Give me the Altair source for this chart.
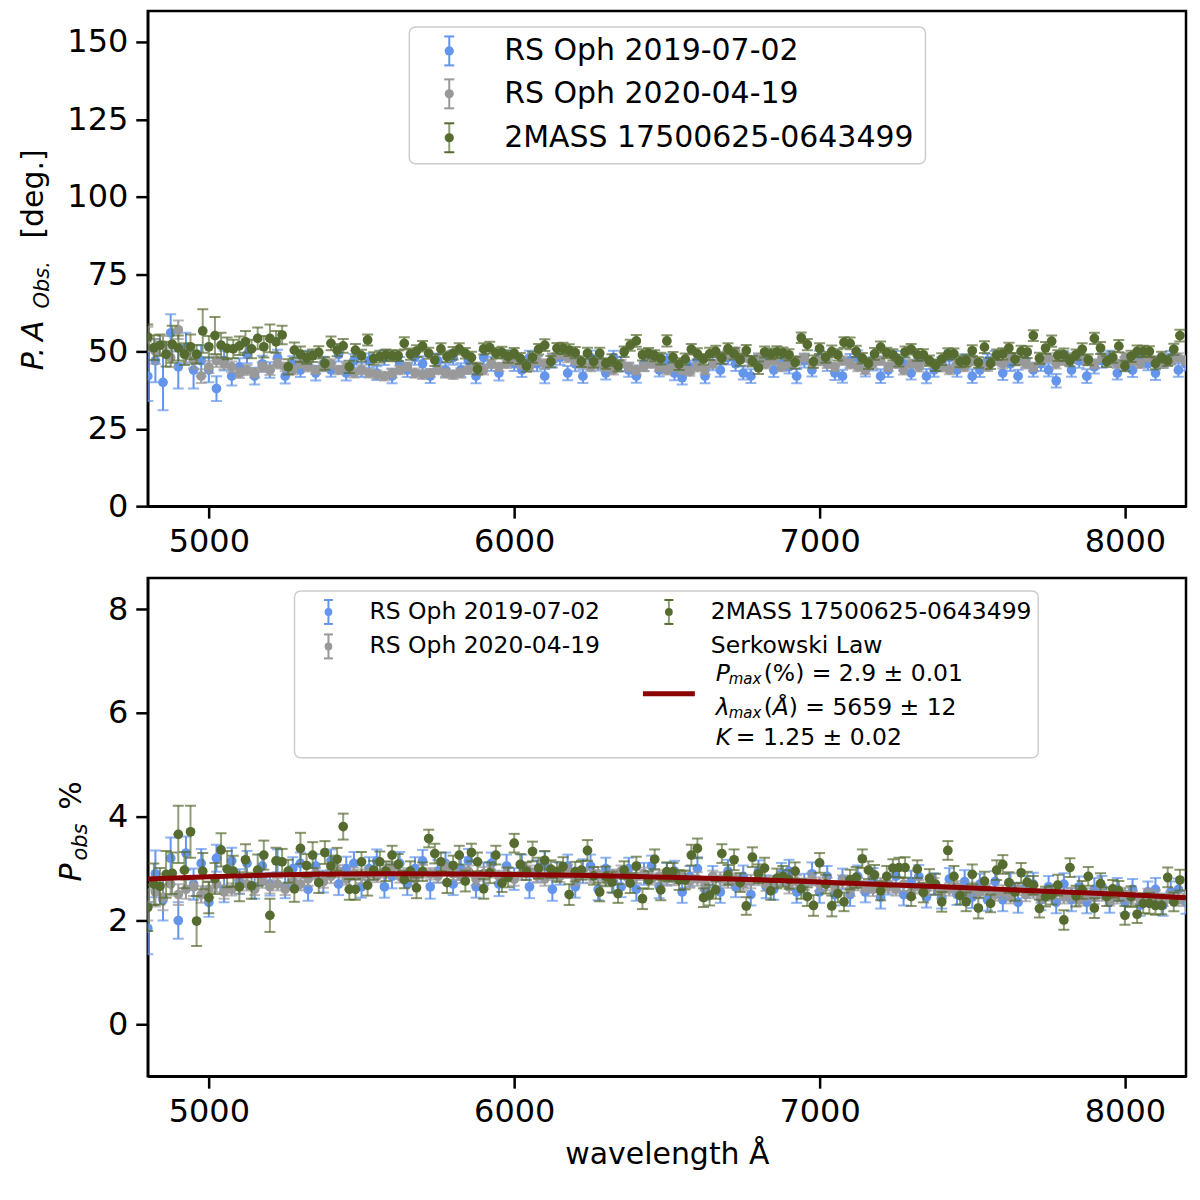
import altair as alt
import pandas as pd

# ---- position angle [deg] ----
# RS Oph 2019-07-02, 25 A bins from 4800 A
pa_2019 = [
    42, 47, 40, 56, 45, 51, 44, 47, 44, 38,
    47, 42, 45, 49, 42, 46, 44, 48, 42, 46, 44, 48, 43, 46, 44, 49, 43, 47, 44,
    47, 43, 48, 42, 46, 44, 48, 46, 42, 47, 44, 48, 44, 47, 42, 48, 46, 43, 48, 46,
    44, 48, 46, 42, 47, 48, 43, 46, 42, 48, 46, 43, 48, 46, 44, 42, 46, 48, 44, 47,
    43, 41.5, 45, 47, 42, 46, 44, 48, 46, 43, 42, 47, 48, 44, 46, 45, 42, 47, 44, 48,
    46, 43, 42, 47, 48, 44, 46, 42, 44, 48, 46, 43, 47, 42, 44, 46, 48, 44, 47, 42,
    44, 47, 48, 43, 46, 42, 47, 44, 46, 44, 40.5, 48, 44, 47, 42, 45, 47, 48, 43, 46,
    44, 48, 46, 43, 47, 48, 44, 46,
]
pa_2019_err = [
    8, 7, 9, 6, 7, 5, 6, 5, 4, 4,
    3.2, 3, 2.8, 2.8, 2.7, 2.6, 2.5, 2.5, 2.4, 2.4,
    2.3, 2.2, 2.4, 2.3, 2.2, 2.3, 2.4, 2.2, 2.3, 2.3,
    2.2, 2.4, 2.3, 2.2, 2.3, 2.3, 2.4, 2.2, 2.3, 2.2,
    2.3, 2.2, 2.4, 2.3, 2.2, 2.3, 2.4, 2.2, 2.3, 2.3,
    2.2, 2.4, 2.3, 2.2, 2.3, 2.3, 2.4, 2.2, 2.3, 2.2,
    2.1, 2.2, 2.3, 2.2, 2.1, 2.3, 2.2, 2.1, 2.2, 2.3,
    2.2, 2.1, 2.2, 2.3, 2.1, 2.2, 2.2, 2.3, 2.1, 2.2,
    2.1, 2.2, 2.3, 2.2, 2.1, 2.3, 2.2, 2.1, 2.2, 2.3,
    2.2, 2.1, 2.2, 2.3, 2.1, 2.2, 2.2, 2.3, 2.1, 2.2,
    2.1, 2.2, 2.3, 2.2, 2.1, 2.3, 2.2, 2.1, 2.2, 2.3,
    2.2, 2.1, 2.2, 2.3, 2.1, 2.2, 2.2, 2.3, 2.1, 2.2,
    2.1, 2.2, 2.3, 2.2, 2.1, 2.3, 2.2, 2.1, 2.2, 2.3,
    2.2, 2.1, 2.2, 2.3, 2.1, 2.2, 2.2,
]
# RS Oph 2020-04-19, 25 A bins from 4800 A
pa_2020 = [
    54, 50, 52, 48, 57, 49, 47, 42, 45, 47,
    46, 45, 43, 44, 43, 45, 44, 46, 45, 44, 46, 45, 44, 45, 46, 44, 45, 43, 44,
    43, 42.5, 42, 43, 44, 45, 43, 42.5, 43, 44, 43, 42.5, 43, 44, 45, 44, 46, 45, 46, 47,
    46, 45, 47, 46, 48, 49, 48, 47, 46, 45, 46, 45, 44, 46, 45, 44, 45, 46, 45, 44,
    45, 44, 43.5, 45, 44, 46, 48, 49, 50, 48, 47, 48, 46, 47, 45, 46, 47, 48, 46, 47,
    46, 45, 47, 46, 45, 44, 46, 47, 45, 46, 44, 46, 45, 47, 46, 45, 44, 46, 45, 47,
    46, 45, 47, 46, 48, 47, 46, 45, 47, 48, 46, 47, 48, 49, 47, 46, 48, 47, 46, 48,
    47, 46, 48, 47, 46, 47, 48, 47,
]
pa_2020_err = [
    4, 4, 3, 3, 3, 2.5, 2.5, 2.2, 2, 2,
    1.8, 1.7, 1.6, 1.6, 1.5, 1.5, 1.6, 1.5, 1.4, 1.5,
    1.4, 1.5, 1.3, 1.4, 1.5, 1.4, 1.3, 1.4, 1.5, 1.4,
    1.3, 1.4, 1.5, 1.4, 1.3, 1.5, 1.4, 1.3, 1.4, 1.5,
    1.4, 1.5, 1.3, 1.4, 1.5, 1.4, 1.3, 1.4, 1.5, 1.4,
    1.3, 1.4, 1.5, 1.4, 1.3, 1.5, 1.4, 1.3, 1.4, 1.5,
    1.4, 1.5, 1.3, 1.4, 1.5, 1.4, 1.3, 1.4, 1.5, 1.4,
    1.3, 1.4, 1.5, 1.4, 1.3, 1.5, 1.4, 1.3, 1.4, 1.5,
    1.4, 1.5, 1.3, 1.4, 1.5, 1.4, 1.3, 1.4, 1.5, 1.4,
    1.3, 1.4, 1.5, 1.4, 1.3, 1.5, 1.4, 1.3, 1.4, 1.5,
    1.4, 1.5, 1.3, 1.4, 1.5, 1.4, 1.3, 1.4, 1.5, 1.4,
    1.3, 1.4, 1.5, 1.4, 1.3, 1.5, 1.4, 1.3, 1.4, 1.5,
    1.4, 1.5, 1.3, 1.4, 1.5, 1.4, 1.3, 1.4, 1.5, 1.4,
    1.4, 1.3, 1.5, 1.4, 1.3, 1.4, 1.5,
]
# 2MASS 17500625-0643499, 20 A bins from 4800 A
pa_2mass = [
    54.7, 51.2, 52.0, 49.1, 52.3, 51.1, 49.1, 51.5, 49.1, 56.6,
    51.5, 55.1, 52.0, 51.0, 50.8, 51.8, 53.1, 50.8, 54.2, 51.5,
    54.2, 53.1, 55.3, 45.0, 50.4, 49.1, 48.0, 48.6, 49.7, 46.1,
    52.6, 50.4, 51.8, 45.0, 50.4, 48.6, 53.7, 47.7, 48.3, 48.8,
    48.6, 48.6, 52.6, 49.1, 50.1, 51.7, 49.4, 47.2, 50.8, 48.3,
    49.4, 50.8, 49.4, 48.0, 44.3, 50.8, 51.2, 49.4,
    49.7, 48.3, 49.4, 47.7, 45.3, 48.1, 50.7, 52.0, 46.7, 51.0,
    51.0, 50.4, 49.6, 46.7, 49.4, 46.7, 49.4, 46.1, 47.2, 45.3,
    49.9, 52.0, 53.4, 48.9, 49.4, 48.6, 47.7, 53.4,
    48.1, 45.9, 47.5, 50.7, 49.2, 47.5, 49.2, 50.0, 47.8, 50.9,
    49.2, 47.3, 50.3, 46.8, 44.7, 49.8, 49.2, 49.8, 49.5, 48.9,
    46.4, 54.4, 52.2, 46.7, 50.9, 48.1, 50.0, 48.9, 52.9, 52.6,
    50.0, 47.8, 46.1, 49.2, 51.4, 49.5, 48.9, 47.0, 49.8, 50.7,
    48.9, 48.9, 47.0, 45.5, 47.5, 49.2, 49.2, 46.7, 47.0, 50.2,
    46.4, 51.4, 46.1, 48.9, 49.2, 51.1, 47.5, 50.0, 49.8, 55.1,
    47.8, 51.1, 53.3, 48.7, 48.9, 47.0, 48.9, 50.7, 47.3, 54.2,
    51.1, 46.7, 48.1, 51.7, 45.3, 48.4, 50.0, 50.0, 50.0, 46.1,
    48.1, 47.0, 50.7, 55.1,
]
pa_2mass_err = [
    4.0, 4.0, 3.5, 4.0, 6.0, 4.0, 3.5, 4.0, 3.0, 7.0,
    3.5, 6.0, 4.0, 3.5, 3.0, 3.0, 3.5, 3.0, 3.5, 3.5,
    4.5, 3.5, 3.0, 2.5, 2.5, 2.5, 2.0, 2.0, 2.0, 2.0,
    2.2, 2.0, 2.2, 2.0, 2.0, 1.9, 1.8, 2.0, 1.9, 1.8,
    1.8, 1.7, 2.0, 1.8, 1.9, 1.7, 1.8, 1.9, 1.8, 1.7,
    2.0, 1.8, 1.7, 1.9, 1.8, 1.8, 1.9, 1.7, 1.8, 2.0,
    1.7, 1.8, 1.9, 1.8, 1.7, 1.9, 1.8, 1.7, 1.8, 1.9,
    1.8, 1.7, 1.8, 1.9, 1.8, 1.7, 1.9, 1.8, 1.7, 1.8,
    1.9, 1.8, 1.7, 1.8, 1.9, 1.8, 1.7, 1.9, 1.8, 1.7,
    1.8, 1.7, 2.0, 1.8, 1.9, 1.7, 1.8, 1.9, 1.8, 1.7,
    2.0, 1.8, 1.7, 1.9, 1.8, 1.8, 1.9, 1.7, 1.8, 2.0,
    1.7, 1.8, 1.9, 1.8, 1.7, 1.9, 1.8, 1.7, 1.8, 1.9,
    1.8, 1.7, 1.8, 1.9, 1.8, 1.7, 1.9, 1.8, 1.7, 1.8,
    1.9, 1.8, 1.7, 1.8, 1.9, 1.8, 1.7, 1.9, 1.8, 1.7,
    1.8, 1.7, 2.0, 1.8, 1.9, 1.7, 1.8, 1.9, 1.8, 1.7,
    2.0, 1.8, 1.7, 1.9, 1.8, 1.8, 1.9, 1.7, 1.8, 2.0,
    1.7, 1.8, 1.9, 1.8, 1.7, 1.9, 1.8, 1.7, 1.8, 1.9,
]

# ---- observed polarisation [%] ----
p_2019 = [
    1.85, 2.9, 2.4, 3.2, 2.0, 3.3, 2.7, 3.1, 2.35, 3.2, 2.6, 3.15, 2.75, 3.1, 2.65, 3.05, 2.7,
    3.15, 2.65, 3.0, 3.1, 2.6, 3.05, 2.75, 3.15, 2.7, 3.0, 3.1, 2.65,
    3.0, 3.15, 2.65, 2.85, 3.1, 2.7, 3.0, 3.15, 2.65, 2.95, 3.1, 2.7, 3.0, 3.15, 2.65, 2.9, 3.1, 2.7, 3.05, 2.8,
    3.05, 2.65, 2.95, 3.1, 2.6, 2.9, 3.05, 2.65, 2.95, 3.05, 2.6, 3.0, 2.75, 2.65, 3.0, 2.6, 2.9, 3.05, 2.65, 2.9,
    2.95, 2.55, 2.85, 3.0, 2.6, 2.85, 2.55, 2.95, 2.65, 2.85, 2.5, 2.95, 2.65, 2.6, 2.9, 2.95, 2.55, 2.7, 2.9, 2.55,
    2.85, 2.5, 2.8, 2.5, 2.85, 2.55, 2.8, 2.45, 2.7, 2.85, 2.5, 2.75, 2.85, 2.45, 2.7, 2.45, 2.8, 2.5, 2.75, 2.45,
    2.7, 2.4, 2.75, 2.4, 2.7, 2.35, 2.65, 2.7, 2.4, 2.65, 2.35, 2.7, 2.4, 2.65, 2.35, 2.6, 2.65, 2.35, 2.6, 2.35,
    2.6, 2.3, 2.55, 2.6, 2.3, 2.55, 2.6, 2.35,
]
p_2019_err = [
    0.5, 0.45, 0.4, 0.4, 0.35, 0.32, 0.3, 0.28, 0.28, 0.26,
    0.25, 0.25, 0.24, 0.24, 0.23, 0.23, 0.22, 0.22, 0.22, 0.22,
    0.21, 0.22, 0.23, 0.21, 0.22, 0.21, 0.23, 0.22, 0.21, 0.22,
    0.22, 0.21, 0.23, 0.22, 0.21, 0.22, 0.21, 0.23, 0.22, 0.21,
    0.21, 0.22, 0.23, 0.21, 0.22, 0.21, 0.23, 0.22, 0.21, 0.22,
    0.22, 0.21, 0.23, 0.22, 0.21, 0.22, 0.21, 0.23, 0.22, 0.21,
    0.21, 0.22, 0.2, 0.21, 0.22, 0.21, 0.2, 0.22, 0.21, 0.2,
    0.21, 0.2, 0.22, 0.21, 0.2, 0.21, 0.22, 0.2, 0.21, 0.21,
    0.21, 0.22, 0.2, 0.21, 0.22, 0.21, 0.2, 0.22, 0.21, 0.2,
    0.21, 0.2, 0.22, 0.21, 0.2, 0.21, 0.22, 0.2, 0.21, 0.21,
    0.21, 0.22, 0.2, 0.21, 0.22, 0.21, 0.2, 0.22, 0.21, 0.2,
    0.21, 0.2, 0.22, 0.21, 0.2, 0.21, 0.22, 0.2, 0.21, 0.21,
    0.21, 0.22, 0.2, 0.21, 0.22, 0.21, 0.2, 0.22, 0.21, 0.2,
    0.21, 0.2, 0.22, 0.21, 0.2, 0.21, 0.22,
]
p_2020 = [
    2.3, 2.55, 2.45, 2.7, 2.5,
    2.6, 2.65, 2.5, 2.6, 2.7, 2.55, 2.6, 2.65, 2.7, 2.6, 2.75, 2.65, 2.7, 2.6, 2.75, 2.7,
    2.8, 2.9, 2.75, 2.85, 2.95, 2.8, 2.9, 2.85,
    2.9, 2.85, 2.95, 3.0, 2.85, 2.9, 2.8, 2.95, 2.9, 2.85, 3.0, 2.9, 2.85, 2.95, 2.8, 2.9, 2.95, 2.85, 2.9, 2.8,
    2.9, 2.95, 2.85, 2.8, 2.9, 2.85, 2.95, 2.8, 2.9, 2.85, 2.9, 2.8, 2.85, 2.95, 2.8, 2.85, 2.9, 2.8, 2.85, 2.8,
    2.8, 2.85, 2.75, 2.8, 2.7, 2.85, 2.8, 2.75, 2.8, 2.7, 2.75, 2.8, 2.7, 2.75, 2.8, 2.65, 2.75, 2.7, 2.8, 2.7,
    2.7, 2.65, 2.75, 2.6, 2.7, 2.65, 2.6, 2.7, 2.65, 2.6, 2.7, 2.55, 2.65, 2.6, 2.7, 2.55, 2.6, 2.65, 2.55, 2.6,
    2.55, 2.6, 2.5, 2.55, 2.45, 2.6, 2.5, 2.55, 2.45, 2.5, 2.55, 2.45, 2.5, 2.4, 2.5, 2.45, 2.5, 2.4, 2.45, 2.5,
    2.45, 2.4, 2.5, 2.45, 2.4, 2.45, 2.4, 2.45,
]
p_2020_err = [
    0.3, 0.28, 0.25, 0.22, 0.2, 0.18, 0.18, 0.16, 0.15, 0.15,
    0.13, 0.12, 0.13, 0.12, 0.11, 0.12, 0.13, 0.12, 0.11, 0.12,
    0.12, 0.13, 0.11, 0.12, 0.13, 0.12, 0.11, 0.12, 0.13, 0.12,
    0.11, 0.12, 0.13, 0.12, 0.11, 0.13, 0.12, 0.11, 0.12, 0.13,
    0.12, 0.13, 0.11, 0.12, 0.13, 0.12, 0.11, 0.12, 0.13, 0.12,
    0.11, 0.12, 0.13, 0.12, 0.11, 0.13, 0.12, 0.11, 0.12, 0.13,
    0.12, 0.13, 0.11, 0.12, 0.13, 0.12, 0.11, 0.12, 0.13, 0.12,
    0.11, 0.12, 0.13, 0.12, 0.11, 0.13, 0.12, 0.11, 0.12, 0.13,
    0.12, 0.13, 0.11, 0.12, 0.13, 0.12, 0.11, 0.12, 0.13, 0.12,
    0.11, 0.12, 0.13, 0.12, 0.11, 0.13, 0.12, 0.11, 0.12, 0.13,
    0.12, 0.13, 0.11, 0.12, 0.13, 0.12, 0.11, 0.12, 0.13, 0.12,
    0.11, 0.12, 0.13, 0.12, 0.11, 0.13, 0.12, 0.11, 0.12, 0.13,
    0.12, 0.13, 0.11, 0.12, 0.13, 0.12, 0.11, 0.12, 0.13, 0.12,
    0.12, 0.11, 0.13, 0.12, 0.11, 0.12, 0.13,
]
p_2mass = [
    2.25, 2.70, 2.66, 2.89, 2.91, 3.66, 2.97, 3.71, 1.99, 2.95,
    2.44, 2.81, 3.36, 2.99, 2.95, 2.65, 3.17, 2.67, 2.97, 3.26,
    2.10, 3.15, 3.13, 2.95, 2.61, 3.39, 3.06, 3.26, 2.73, 3.31,
    3.05, 3.18, 3.81, 2.60, 2.60, 3.13, 2.68, 2.97, 3.13, 2.95,
    3.26, 3.08, 2.79, 2.95, 2.63, 2.94, 3.58, 3.29, 3.13, 2.73,
    3.06, 3.26, 2.76, 3.31, 3.13, 2.61, 2.92, 3.26,
    2.72, 2.83, 3.49, 3.08, 2.95, 3.33, 3.01, 3.16, 2.99, 2.94,
    3.04, 2.50, 2.94, 2.97, 3.35, 2.86, 2.55, 2.85, 2.74, 2.52,
    2.97, 2.72, 3.05, 2.42, 2.78, 3.18, 2.59, 2.94, 2.94, 2.78,
    2.78, 3.26, 3.39, 2.44, 2.49, 2.59, 3.29, 2.88, 3.17, 2.73,
    2.28, 3.22, 2.90, 3.01, 2.57, 2.81, 2.85, 2.79, 2.95, 2.61,
    2.46, 2.29, 3.11, 2.70, 2.28, 2.52,
    2.36, 2.79, 2.83, 3.19, 2.97, 2.88, 2.57, 2.85, 3.01, 3.02,
    3.02, 2.46, 2.99, 2.54, 2.81, 2.70, 2.36, 3.35, 2.85, 2.48,
    2.36, 2.89, 2.24, 2.76, 2.33, 2.97, 3.08, 2.73, 2.55, 2.92,
    2.74, 2.68, 2.23, 2.46, 2.49, 2.68, 2.01, 3.02, 2.47, 2.59,
    2.85, 2.24, 2.71, 2.46, 2.61, 2.57, 2.10, 2.46, 2.12, 2.33,
    2.33, 2.29, 2.29, 2.83, 2.36, 2.78,
]
p_2mass_err = [
    0.45, 0.4, 0.35, 0.45, 0.4, 0.55, 0.35, 0.5, 0.48, 0.35,
    0.3, 0.3, 0.32, 0.35, 0.3, 0.28, 0.3, 0.25, 0.3, 0.28,
    0.32, 0.25, 0.25, 0.22, 0.25, 0.3, 0.22, 0.25, 0.2, 0.22,
    0.2, 0.22, 0.25, 0.2, 0.2, 0.19, 0.2, 0.18, 0.2, 0.19,
    0.18, 0.2, 0.17, 0.19, 0.2, 0.18, 0.17, 0.19, 0.18, 0.2,
    0.19, 0.18, 0.2, 0.17, 0.18, 0.19, 0.2, 0.18, 0.17, 0.19,
    0.18, 0.2, 0.17, 0.19, 0.2, 0.18, 0.17, 0.19, 0.18, 0.2,
    0.19, 0.18, 0.2, 0.17, 0.18, 0.19, 0.2, 0.18, 0.17, 0.19,
    0.18, 0.2, 0.17, 0.19, 0.2, 0.18, 0.17, 0.19, 0.18, 0.2,
    0.19, 0.18, 0.2, 0.17, 0.18, 0.19, 0.2, 0.18, 0.17, 0.19,
    0.18, 0.2, 0.17, 0.19, 0.2, 0.18, 0.17, 0.19, 0.18, 0.2,
    0.19, 0.18, 0.2, 0.17, 0.18, 0.19, 0.2, 0.18, 0.17, 0.19,
    0.18, 0.2, 0.17, 0.19, 0.2, 0.18, 0.17, 0.19, 0.18, 0.2,
    0.19, 0.18, 0.2, 0.17, 0.18, 0.19, 0.2, 0.18, 0.17, 0.19,
    0.18, 0.2, 0.17, 0.19, 0.2, 0.18, 0.17, 0.19, 0.18, 0.2,
    0.19, 0.18, 0.2, 0.17, 0.18, 0.19, 0.2, 0.18, 0.17, 0.19,
    0.18, 0.2, 0.17, 0.19, 0.2, 0.18, 0.17, 0.19, 0.18, 0.2,
]

# Serkowski law curve
serk_lam = [4800, 5000, 5200, 5400, 5600, 5800, 6000, 6200, 6400,
            6600, 6800, 7000, 7200, 7400, 7600, 7800, 8000, 8200]
serk_p = [2.80, 2.845, 2.877, 2.895, 2.90, 2.898, 2.888, 2.872, 2.85,
          2.82, 2.785, 2.74, 2.695, 2.65, 2.60, 2.55, 2.50, 2.44]

BLUE, GRAY, GREEN, RED = "#6495ed", "#999999", "#556b2f", "#8b0000"
FONT = "DejaVu Sans"
X_SCALE = alt.Scale(domain=[4800, 8200], nice=False, zero=False)
ONE = alt.Data(values=[{}])


def frame(vals, errs, step):
    return pd.DataFrame({
        "lam": [4800 + step * i for i in range(len(vals))],
        "val": vals,
        "lo": [v - e for v, e in zip(vals, errs)],
        "hi": [v + e for v, e in zip(vals, errs)],
    })


def errorbars(df, color, y_scale, x_axis, y_axis, cap=11, size=95, bar_opacity=1.0):
    x = alt.X("lam:Q", scale=X_SCALE, axis=x_axis)
    base = alt.Chart(df)
    bars = base.mark_rule(color=color, strokeWidth=2, opacity=bar_opacity, clip=True).encode(
        x=x, y=alt.Y("lo:Q", scale=y_scale, axis=y_axis), y2="hi:Q")
    caps = [base.mark_tick(color=color, orient="horizontal", size=cap, thickness=2, clip=True).encode(
        x=x, y=alt.Y(f + ":Q", scale=y_scale, axis=y_axis)) for f in ("lo", "hi")]
    dots = base.mark_circle(color=color, size=size, opacity=1, clip=True).encode(
        x=x, y=alt.Y("val:Q", scale=y_scale, axis=y_axis))
    return [bars, *caps, dots]


def text(s, x, y, size, italic=False, angle=0, dx=0, dy=0, baseline="middle"):
    props = dict(text=s, font=FONT, fontSize=size, color="black", align="left",
                 baseline=baseline, dx=dx, dy=dy)
    if italic:
        props["fontStyle"] = "italic"
    if angle:
        props["angle"] = angle
    return alt.Chart(ONE).mark_text(**props).encode(x=alt.value(x), y=alt.value(y))


def key(x, y, color, half, cap, size, bar_opacity=1.0):
    c = alt.Chart(ONE)
    return [
        c.mark_rule(color=color, strokeWidth=2, opacity=bar_opacity).encode(
            x=alt.value(x), y=alt.value(y - half), y2=alt.value(y + half)),
        c.mark_rule(color=color, strokeWidth=2).encode(
            x=alt.value(x - cap / 2), x2=alt.value(x + cap / 2), y=alt.value(y - half)),
        c.mark_rule(color=color, strokeWidth=2).encode(
            x=alt.value(x - cap / 2), x2=alt.value(x + cap / 2), y=alt.value(y + half)),
        c.mark_circle(color=color, size=size, opacity=1).encode(x=alt.value(x), y=alt.value(y)),
    ]


def box(x1, x2, y1, y2):
    return alt.Chart(ONE).mark_rect(fill="white", fillOpacity=0.8, stroke="#cccccc",
                                    strokeWidth=1.5, cornerRadius=6).encode(
        x=alt.value(x1), x2=alt.value(x2), y=alt.value(y1), y2=alt.value(y2))


# ---- top panel: position angle ----
top_x_axis = alt.Axis(values=[5000, 6000, 7000, 8000], format="d", title=None)
top_y_axis = alt.Axis(values=[0, 25, 50, 75, 100, 125, 150], format="d", title=None)
top_y = alt.Scale(domain=[0, 160], nice=False, zero=False)

top_layers = (
    errorbars(frame(pa_2019, pa_2019_err, 25), BLUE, top_y, top_x_axis, top_y_axis)
    + errorbars(frame(pa_2020, pa_2020_err, 25), GRAY, top_y, top_x_axis, top_y_axis)
    + errorbars(frame(pa_2mass, pa_2mass_err, 20), GREEN, top_y, top_x_axis, top_y_axis,
                bar_opacity=0.65)
    + [box(262, 779, 16, 153)]
    + key(302, 40, BLUE, 14.5, 10, 85)
    + key(302, 83, GRAY, 14.5, 10, 85)
    + key(302, 127, GREEN, 14.5, 10, 85, bar_opacity=0.65)
    + [
        text("RS Oph 2019-07-02", 357, 40, 30),
        text("RS Oph 2020-04-19", 357, 83, 30),
        text("2MASS 17500625-0643499", 357, 127, 30),
        text("P.\u2009A", -105, 360, 30, italic=True, angle=270, baseline="alphabetic"),
        text("Obs.", -105, 360, 21, italic=True, angle=270, dx=62, dy=6, baseline="alphabetic"),
        text("[deg.]", -105, 360, 30, angle=270, dx=132, baseline="alphabetic"),
    ]
)
top = alt.layer(*top_layers).properties(width=1040, height=496)

# ---- bottom panel: polarisation degree ----
bot_x_axis = alt.Axis(values=[5000, 6000, 7000, 8000], format="d", title="wavelength Å",
                      titlePadding=12)
bot_y_axis = alt.Axis(values=[0, 2, 4, 6, 8], format="d", title=None)
bot_y = alt.Scale(domain=[-1, 8.6], nice=False, zero=False)

serk = alt.Chart(pd.DataFrame({"lam": serk_lam, "p": serk_p})).mark_line(
    color=RED, strokeWidth=5, interpolate="monotone", clip=True
).encode(
    x=alt.X("lam:Q", scale=X_SCALE, axis=bot_x_axis),
    y=alt.Y("p:Q", scale=bot_y, axis=bot_y_axis),
)

LX = 569
bot_layers = (
    errorbars(frame(p_2019, p_2019_err, 25), BLUE, bot_y, bot_x_axis, bot_y_axis)
    + errorbars(frame(p_2020, p_2020_err, 25), GRAY, bot_y, bot_x_axis, bot_y_axis)
    + errorbars(frame(p_2mass, p_2mass_err, 20), GREEN, bot_y, bot_x_axis, bot_y_axis,
                bar_opacity=0.65)
    + [serk, box(147, 892, 13, 180)]
    + key(181, 34, BLUE, 12, 9, 60)
    + key(181, 68.5, GRAY, 12, 9, 60)
    + key(522, 34, GREEN, 12, 9, 60, bar_opacity=0.65)
    + [
        alt.Chart(ONE).mark_rule(color=RED, strokeWidth=5).encode(
            x=alt.value(496), x2=alt.value(548), y=alt.value(116)),
        text("RS Oph 2019-07-02", 222, 34, 23.5),
        text("RS Oph 2020-04-19", 222, 68.5, 23.5),
        text("2MASS 17500625-0643499", 564, 34, 23.5),
        text("Serkowski Law", 564, 68.5, 23.5),
        text("P", LX, 103, 23.5, italic=True, baseline="alphabetic"),
        text("max", LX, 103, 15, italic=True, dx=13, dy=3, baseline="alphabetic"),
        text("(%) = 2.9 ± 0.01", LX, 103, 23.5, dx=48, baseline="alphabetic"),
        text("λ", LX, 137, 23.5, italic=True, baseline="alphabetic"),
        text("max", LX, 137, 15, italic=True, dx=13, dy=3, baseline="alphabetic"),
        text("(", LX, 137, 23.5, dx=48, baseline="alphabetic"),
        text("Å", LX, 137, 23.5, italic=True, dx=57, baseline="alphabetic"),
        text(") = 5659 ± 12", LX, 137, 23.5, dx=73, baseline="alphabetic"),
        text("K", LX, 167, 23.5, italic=True, baseline="alphabetic"),
        text("= 1.25 ± 0.02", LX, 167, 23.5, dx=20, baseline="alphabetic"),
        text("P", -67, 304, 30, italic=True, angle=270, baseline="alphabetic"),
        text("obs", -67, 304, 21, italic=True, angle=270, dx=21, dy=6, baseline="alphabetic"),
        text("%", -67, 304, 30, angle=270, dx=72, baseline="alphabetic"),
    ]
)
bottom = alt.layer(*bot_layers).properties(width=1040, height=499)

chart = alt.vconcat(top, bottom, spacing=72, bounds="flush").properties(
    padding={"left": 9, "top": 0, "right": 4, "bottom": 4}
).configure_view(
    stroke="black", strokeWidth=2.5
).configure_axis(
    labelFont=FONT, labelFontSize=32, labelColor="black", labelPadding=8,
    domainColor="black", domainWidth=2.5, tickColor="black", tickWidth=2.5, tickSize=12,
    grid=False, titleFont=FONT, titleFontSize=30, titleColor="black", titleFontWeight="normal",
)

chart.save("out.html", embed_options={"renderer": "svg", "actions": False})
